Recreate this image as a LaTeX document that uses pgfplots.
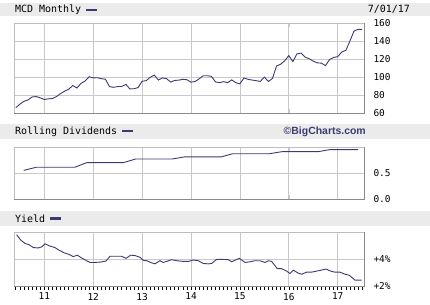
\documentclass[border=0pt]{standalone}
\usepackage{pgfplots}
\pgfplotsset{compat=1.18}
\usepackage{fontspec}
\setmainfont{Liberation Sans}
\newfontfamily\monof{DejaVu Sans Mono}
\definecolor{navy}{HTML}{3B3B73}
\definecolor{hdr}{HTML}{EBEBEB}
\definecolor{gridc}{HTML}{C8C8C8}
\definecolor{bordc}{HTML}{BDBDBD}
\definecolor{shadowc}{HTML}{8A8A8A}

\pgfplotstableread{
x y
10.417 65.9
10.500 69.7
10.583 73.0
10.667 74.5
10.750 77.8
10.833 78.3
10.917 76.8
11.000 75.0
11.083 75.7
11.167 76.1
11.250 78.3
11.333 81.6
11.417 84.3
11.500 86.5
11.583 90.5
11.667 87.8
11.750 92.8
11.833 95.5
11.917 100.3
12.000 99.0
12.083 99.2
12.167 98.1
12.250 97.5
12.333 89.3
12.417 88.5
12.500 89.4
12.583 89.5
12.667 91.8
12.750 86.8
12.833 87.0
12.917 88.2
13.000 95.3
13.083 95.9
13.167 99.7
13.250 102.1
13.333 96.6
13.417 99.0
13.500 98.1
13.583 94.4
13.667 96.2
13.750 96.5
13.833 97.4
13.917 97.0
14.000 94.2
14.083 95.0
14.167 98.0
14.250 101.4
14.333 101.4
14.417 100.7
14.500 94.6
14.583 93.7
14.667 94.8
14.750 93.7
14.833 96.8
14.917 93.7
15.000 92.4
15.083 98.9
15.167 97.4
15.250 96.6
15.333 95.9
15.417 95.1
15.500 99.9
15.583 95.0
15.667 98.5
15.750 112.3
15.833 114.2
15.917 118.1
16.000 123.8
16.083 117.2
16.167 125.7
16.250 126.5
16.333 122.1
16.417 120.3
16.500 117.6
16.583 115.7
16.667 115.4
16.750 112.6
16.833 119.4
16.917 121.7
17.000 122.6
17.083 127.7
17.167 129.6
17.250 139.9
17.333 151.0
17.417 152.9
17.500 153.0
}\price

\pgfplotstableread{
x y
10.58 0.55
10.83 0.61
11.62 0.61
11.87 0.70
12.62 0.70
12.87 0.77
13.62 0.77
13.87 0.81
14.62 0.81
14.85 0.87
15.60 0.87
15.86 0.91
16.60 0.91
16.84 0.95
17.42 0.95
}\divs

\pgfplotstableread{
x y
10.434 5.795
10.516 5.41
10.605 5.154
10.693 5.051
10.775 4.846
10.877 4.82
10.945 4.897
11.014 5.128
11.102 4.974
11.218 4.846
11.307 4.641
11.402 4.462
11.511 4.333
11.593 4.179
11.675 4.282
11.763 4.077
11.866 3.872
11.934 3.744
12.016 3.744
12.138 3.769
12.261 3.846
12.343 4.205
12.445 4.205
12.581 4.205
12.670 4.051
12.766 4.282
12.854 4.256
12.956 4.128
13.025 3.897
13.093 3.872
13.195 3.718
13.263 3.641
13.365 3.872
13.434 3.744
13.502 3.821
13.604 3.949
13.706 3.872
13.843 3.821
13.945 3.821
14.047 3.923
14.149 3.872
14.252 3.667
14.354 3.641
14.422 3.667
14.524 3.974
14.626 3.974
14.763 3.949
14.831 3.795
14.988 4.051
15.104 3.744
15.206 3.795
15.308 3.872
15.410 3.872
15.513 3.744
15.581 3.872
15.649 3.821
15.765 3.282
15.854 3.282
15.956 3.103
16.024 2.923
16.092 3.179
16.194 2.949
16.263 2.872
16.365 3.026
16.467 3.026
16.569 3.103
16.671 3.179
16.760 3.256
16.856 3.103
16.944 3.026
17.046 3.026
17.149 2.872
17.237 2.795
17.353 2.436
17.489 2.436
}\yld

\pgfplotsset{
  panel/.style={
    scale only axis, width=350bp,
    xmin=10.38, xmax=17.538,
    xtick={11,12,13,14,15,16,17}, xticklabels={},
    grid=major, major grid style={gridc, line width=0.8bp},
    axis line style={bordc, line width=0.8bp},
    tick style={gridc, line width=0.6bp},
    tick align=inside,
    yticklabel pos=right,
    /pgf/number format/assume math mode=true,
    yticklabel style={font=\monof\fontsize{9.5}{10}\selectfont, anchor=west, xshift=6bp, text=black},
    clip mode=individual,
    anchor=south west,
  },
  dataline/.style={navy, line width=0.9bp, mark=none},
}

\newcommand{\shadowbox}{\draw[shadowc, line width=1.6bp] ([yshift=-0.4bp]rel axis cs:0,0) -- ([xshift=0.4bp,yshift=-0.4bp]rel axis cs:1,0) -- ([xshift=0.4bp]rel axis cs:1,1);}

\begin{document}
\begin{tikzpicture}[x=1bp,y=1bp]
\fill[white] (0,0) rectangle (430,305);
% header bars
\fill[hdr] (0,289) rectangle (430,302);
\fill[hdr] (0,166) rectangle (430,181);
\fill[hdr] (0,79) rectangle (430,94);
\node[anchor=west, inner sep=0, font=\monof\fontsize{10}{11}\selectfont] at (15,295.5) {MCD Monthly};
\fill[navy] (86,293.6) rectangle (97,296.2);
\node[anchor=east, inner sep=0, font=\monof\fontsize{10}{11}\selectfont] at (410,295.5) {7/01/17};
\node[anchor=west, inner sep=0, font=\monof\fontsize{10}{11}\selectfont] at (15,173.5) {Rolling Dividends};
\fill[navy] (122,172.6) rectangle (133,175.2);
\node[anchor=east, inner sep=0, font=\bfseries\fontsize{10.5}{12}\selectfont, text=navy] at (366,173.5) {©BigCharts.com};
\node[anchor=west, inner sep=0, font=\monof\fontsize{10}{11}\selectfont] at (15,86.5) {Yield};
\fill[navy] (50,85.3) rectangle (61,87.9);

% price
\begin{axis}[panel, at={(14bp,192bp)}, height=90bp,
  ymin=60, ymax=160, ytick={60,80,100,120,140,160}]
\addplot[dataline] table {\price};
\shadowbox
\end{axis}

% dividends
\begin{axis}[panel, at={(14bp,106bp)}, height=52bp,
  ymin=0, ymax=1, ytick={0,0.5}, yticklabels={0.0,0.5}]
\addplot[dataline] table {\divs};
\shadowbox
\end{axis}

% yield
\begin{axis}[panel, at={(14bp,19bp)}, height=54bp,
  ymin=2, ymax=6, ytick={2,4}, yticklabels={+2\%,+4\%},
  xticklabels={11,12,13,14,15,16,17},
  xtick pos=left, xtick align=outside,
  major tick length=3.5bp, minor tick length=3.5bp,
  xtick style={draw=black, line width=0.6bp},
  minor xtick={10.4167,10.5,10.5833,10.6667,10.75,10.8333,10.9167,11.0833,11.1667,11.25,11.3333,11.4167,11.5,11.5833,11.6667,11.75,11.8333,11.9167,12.0833,12.1667,12.25,12.3333,12.4167,12.5,12.5833,12.6667,12.75,12.8333,12.9167,13.0833,13.1667,13.25,13.3333,13.4167,13.5,13.5833,13.6667,13.75,13.8333,13.9167,14.0833,14.1667,14.25,14.3333,14.4167,14.5,14.5833,14.6667,14.75,14.8333,14.9167,15.0833,15.1667,15.25,15.3333,15.4167,15.5,15.5833,15.6667,15.75,15.8333,15.9167,16.0833,16.1667,16.25,16.3333,16.4167,16.5,16.5833,16.6667,16.75,16.8333,16.9167,17.0833,17.1667,17.25,17.3333,17.4167,17.5},
  xticklabel style={font=\monof\fontsize{9.5}{10}\selectfont}]
\addplot[dataline] table {\yld};
\shadowbox
\end{axis}
\end{tikzpicture}
\end{document}
